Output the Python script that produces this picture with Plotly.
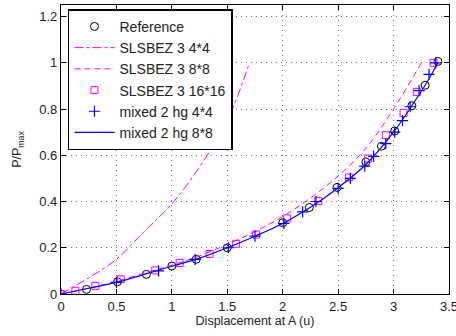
import plotly.graph_objects as go

# Reference solution
ref_x = [0, 0.23, 0.51, 0.77, 1.0, 1.22, 1.5, 2.0, 2.24, 2.49, 2.75, 2.89, 3.01, 3.165, 3.285, 3.40]
ref_y = [0, 0.02, 0.053, 0.085, 0.121, 0.15, 0.2, 0.308, 0.374, 0.461, 0.571, 0.639, 0.705, 0.814, 0.903, 1.006]

# SLSBEZ 3 4*4
s4_x = [0, 0.25, 0.5, 0.75, 1.0, 1.25, 1.5, 1.7]
s4_y = [0, 0.07, 0.15, 0.27, 0.39, 0.55, 0.75, 1.0]

# SLSBEZ 3 8*8
s8_x = [0, 0.25, 0.5, 0.75, 1.0, 1.25, 1.5, 1.75, 2.0, 2.25, 2.5, 2.75, 3.0, 3.25]
s8_y = [0, 0.025, 0.055, 0.09, 0.125, 0.165, 0.215, 0.27, 0.335, 0.415, 0.51, 0.63, 0.80, 1.0]

# SLSBEZ 3 16*16
s16_x = [0, 0.13, 0.31, 0.54, 0.85, 1.07, 1.34, 1.58, 1.76, 2.04, 2.32, 2.6, 2.77, 2.93, 3.09, 3.21, 3.36]
s16_y = [0, 0.014, 0.035, 0.064, 0.102, 0.134, 0.173, 0.217, 0.257, 0.327, 0.402, 0.504, 0.586, 0.687, 0.783, 0.874, 1.0]

# mixed 2 hg 4*4
m4_x = [0, 0.5, 0.88, 1.21, 1.51, 1.75, 2.01, 2.18, 2.30, 2.50, 2.61, 2.74, 2.82, 2.93, 3.01, 3.08, 3.15, 3.23, 3.32, 3.38]
m4_y = [0, 0.05, 0.10, 0.15, 0.20, 0.25, 0.305, 0.355, 0.40, 0.457, 0.50, 0.553, 0.595, 0.65, 0.70, 0.75, 0.81, 0.88, 0.95, 1.0]

# mixed 2 hg 8*8
m8_x = [0, 0.25, 0.5, 0.75, 1.0, 1.25, 1.5, 1.75, 2.0, 2.25, 2.5, 2.75, 3.0, 3.2, 3.3, 3.4]
m8_y = [0, 0.025, 0.05, 0.085, 0.12, 0.155, 0.2, 0.25, 0.305, 0.375, 0.46, 0.56, 0.7, 0.84, 0.915, 1.0]

x_ticks = [0, 0.5, 1, 1.5, 2, 2.5, 3, 3.5]
y_ticks = [0, 0.2, 0.4, 0.6, 0.8, 1, 1.2]

fig = go.Figure()
fig.add_trace(go.Scatter(x=ref_x, y=ref_y, mode='markers', name='Reference',
                         marker=dict(symbol='circle-open', size=8, color='black',
                                     line=dict(width=1))))
fig.add_trace(go.Scatter(x=s4_x, y=s4_y, mode='lines', name='SLSBEZ 3 4*4',
                         line=dict(color='#ff00ff', width=1, dash='dashdot', shape='spline')))
fig.add_trace(go.Scatter(x=s8_x, y=s8_y, mode='lines', name='SLSBEZ 3 8*8',
                         line=dict(color='#ff00ff', width=1, dash='6px,4px', shape='spline')))
fig.add_trace(go.Scatter(x=s16_x, y=s16_y, mode='markers', name='SLSBEZ 3 16*16',
                         marker=dict(symbol='square-open', size=7, color='#ff00ff',
                                     line=dict(width=1))))
fig.add_trace(go.Scatter(x=m4_x, y=m4_y, mode='markers', name='mixed 2 hg 4*4',
                         marker=dict(symbol='cross-thin-open', size=8, color='#0000ff',
                                     line=dict(width=1.2, color='#0000ff'))))
fig.add_trace(go.Scatter(x=m8_x, y=m8_y, mode='lines', name='mixed 2 hg 8*8',
                         line=dict(color='#0000ff', width=1.2, shape='spline')))

axis_common = dict(showline=True, linecolor='black', linewidth=1.2, mirror='ticks',
                   ticks='inside', ticklen=5, tickcolor='black', automargin=False,
                   showgrid=True, gridcolor='#777777', griddash='1px,4px', gridwidth=1,
                   zeroline=False, tickfont=dict(size=13, color='#222222'),
                   ticklabeloverflow='allow')

fig.update_xaxes(range=[0, 3.5], tickvals=x_ticks, ticktext=[str(t) for t in x_ticks],
                 title=dict(text='Displacement at A (u)', font=dict(size=12.5, color='#222222'),
                            standoff=0),
                 **axis_common)
fig.update_yaxes(range=[0, 1.25], tickvals=y_ticks, ticktext=[str(t) for t in y_ticks],
                 title=dict(text='P/P<sub>max</sub>', font=dict(size=12.5, color='#222222'),
                            standoff=14),
                 **axis_common)

fig.update_layout(
    width=456, height=336,
    margin=dict(l=61, r=7, t=5, b=42),
    paper_bgcolor='white', plot_bgcolor='white',
    font=dict(family='Liberation Sans, Arial, sans-serif', size=13, color='#222222'),
    legend=dict(x=0.018, y=0.985, xanchor='left', yanchor='top',
                bgcolor='white', bordercolor='black', borderwidth=1.5,
                font=dict(size=14, color='#222222'), itemwidth=40,
                tracegroupgap=0),
    showlegend=True,
)

# drop the browser's default body margin so the figure sits at the window corner
fig.write_html("out.html", config={'displayModeBar': False},
               post_script="document.body.style.margin='0';")
